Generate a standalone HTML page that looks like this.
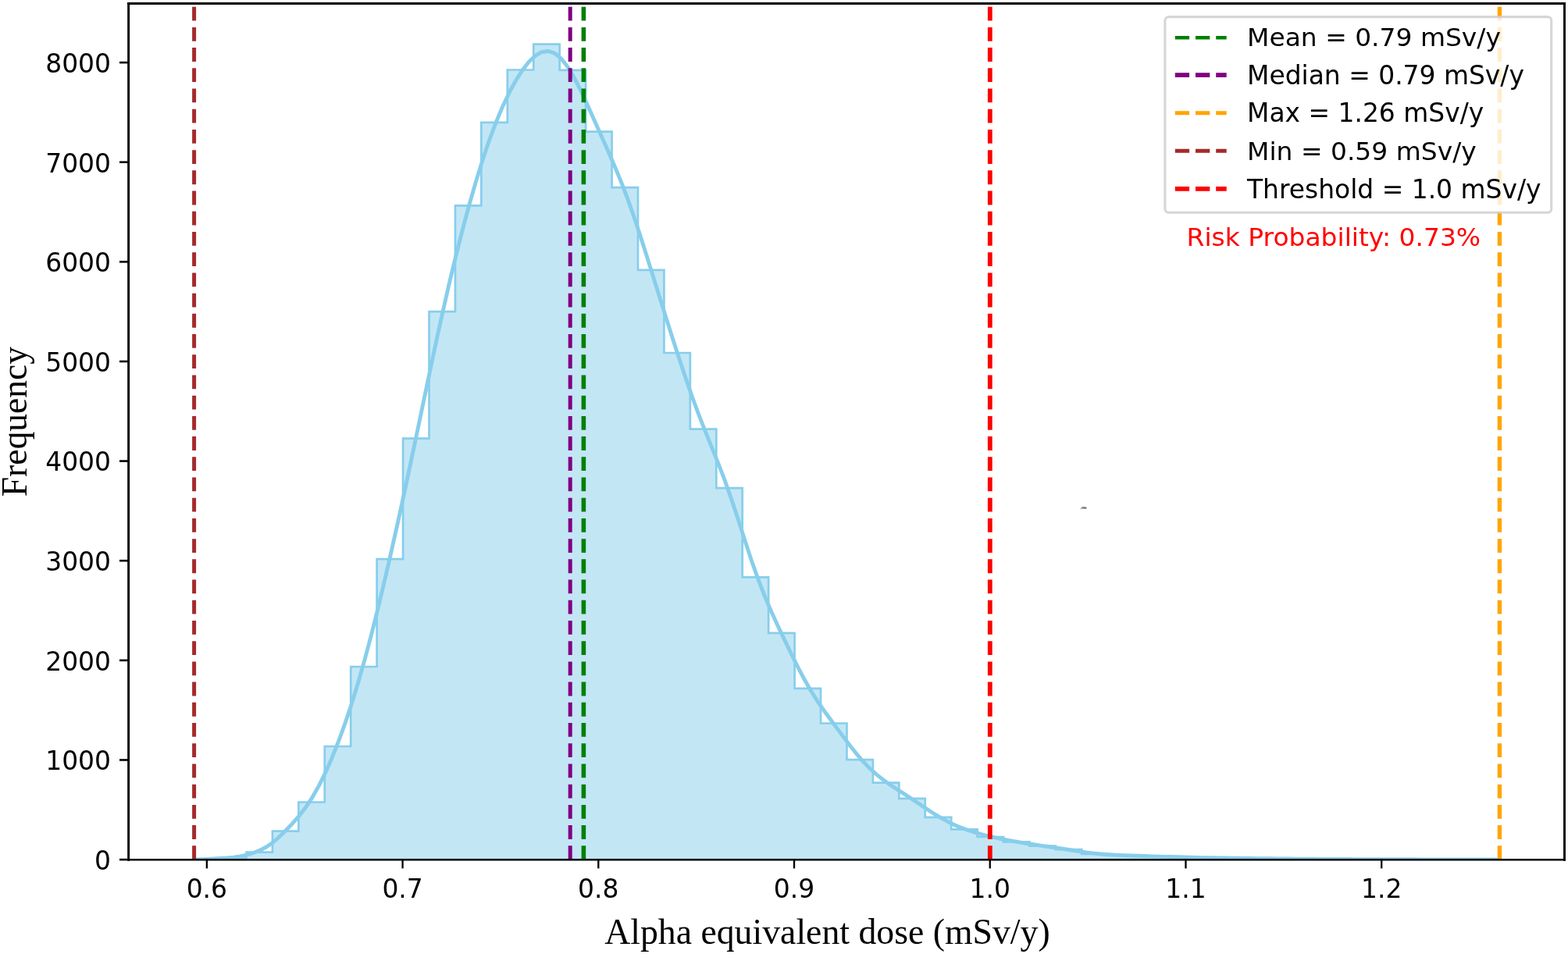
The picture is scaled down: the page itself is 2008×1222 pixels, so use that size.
<!DOCTYPE html>
<html lang="en">
<head>
<meta charset="utf-8">
<title>Alpha equivalent dose distribution</title>
<style>
html,body{margin:0;padding:0;background:#fff;}
body{width:2008px;height:1222px;overflow:hidden;}
svg{display:block;}
.t{font-family:"DejaVu Sans","Liberation Sans",sans-serif;font-size:32.93px;fill:#000;}
.s{font-family:"Liberation Serif","DejaVu Serif",serif;font-size:45.9px;fill:#000;}
</style>
</head>
<body>
<svg width="2008" height="1222" viewBox="0 0 2008 1222">
<rect x="0" y="0" width="2008" height="1222" fill="#ffffff"/>
<defs><clipPath id="ax"><rect x="164.5" y="4.5" width="1839.0" height="1096.5"/></clipPath></defs>
<g clip-path="url(#ax)">
<path d="M248.6 1101 L248.6 1100.6 L282.03 1100.6 L282.03 1098.6 L315.47 1098.6 L315.47 1091.6 L348.9 1091.6 L348.9 1064.6 L382.34 1064.6 L382.34 1027.5 L415.77 1027.5 L415.77 956 L449.2 956 L449.2 854 L482.64 854 L482.64 716.1 L516.07 716.1 L516.07 561.6 L549.51 561.6 L549.51 399.1 L582.94 399.1 L582.94 263.3 L616.37 263.3 L616.37 156.8 L649.81 156.8 L649.81 89.5 L683.24 89.5 L683.24 56.6 L716.68 56.6 L716.68 89.8 L750.11 89.8 L750.11 168.7 L783.54 168.7 L783.54 240.2 L816.98 240.2 L816.98 345.8 L850.41 345.8 L850.41 452 L883.85 452 L883.85 549.7 L917.28 549.7 L917.28 625.2 L950.71 625.2 L950.71 739.3 L984.15 739.3 L984.15 810.8 L1017.58 810.8 L1017.58 881.9 L1051.02 881.9 L1051.02 926.5 L1084.45 926.5 L1084.45 973.2 L1117.88 973.2 L1117.88 1002.7 L1151.32 1002.7 L1151.32 1022.9 L1184.75 1022.9 L1184.75 1046.9 L1218.19 1046.9 L1218.19 1062.4 L1251.62 1062.4 L1251.62 1072 L1285.05 1072 L1285.05 1078.3 L1318.49 1078.3 L1318.49 1083.6 L1351.92 1083.6 L1351.92 1088.2 L1385.36 1088.2 L1385.36 1093.8 L1418.79 1093.8 L1418.79 1095.5 L1452.22 1095.5 L1452.22 1096.7 L1485.66 1096.7 L1485.66 1097.6 L1519.09 1097.6 L1519.09 1098.5 L1552.53 1098.5 L1552.53 1099.1 L1585.96 1099.1 L1585.96 1099.5 L1619.39 1099.5 L1619.39 1099.9 L1652.83 1099.9 L1652.83 1100.2 L1686.26 1100.2 L1686.26 1100.4 L1719.7 1100.4 L1719.7 1100.6 L1753.13 1100.6 L1753.13 1100.7 L1786.56 1100.7 L1786.56 1100.8 L1820 1100.8 L1820 1100.9 L1853.43 1100.9 L1853.43 1100.9 L1886.87 1100.9 L1886.87 1100.9 L1920.3 1100.9 L1920.3 1101 Z" fill="#87ceeb" fill-opacity="0.5" stroke="#87ceeb" stroke-width="2.7" stroke-linejoin="miter"/>
<path d="M248.6 1100.97 L257 1100.73 L265.4 1100.41 L273.8 1100.01 L282.2 1099.51 L290.6 1098.9 L299 1098.07 L307.4 1096.86 L315.8 1095.06 L324.2 1092.5 L332.61 1089.22 L341.01 1085.06 L349.41 1079.28 L357.81 1071.76 L366.21 1063.43 L374.61 1054.7 L383.01 1045.16 L391.41 1034.25 L399.81 1021.55 L408.21 1006.81 L416.61 989.91 L425.01 970.91 L433.41 949.88 L441.81 926.86 L450.21 901.8 L458.61 874.6 L467.01 845.2 L475.41 813.67 L483.81 780.2 L492.21 745.08 L500.62 708.64 L509.02 671.1 L517.42 632.64 L525.82 593.37 L534.22 553.47 L542.62 513.25 L551.02 473.19 L559.42 433.84 L567.82 395.7 L576.22 359.17 L584.62 324.43 L593.02 291.54 L601.42 260.51 L609.82 231.41 L618.22 204.38 L626.62 179.56 L635.02 157.1 L643.42 137.03 L651.82 119.28 L660.22 103.75 L668.63 90.44 L677.03 79.53 L685.43 71.41 L693.83 66.57 L702.23 65.48 L710.63 68.42 L719.03 75.44 L727.43 86.27 L735.83 100.38 L744.23 116.97 L752.63 135.1 L761.03 153.89 L769.43 172.74 L777.83 191.56 L786.23 210.74 L794.63 230.95 L803.03 252.75 L811.43 276.38 L819.83 301.63 L828.23 327.99 L836.64 354.86 L845.04 381.78 L853.44 408.51 L861.84 434.9 L870.24 460.82 L878.64 485.98 L887.04 510.05 L895.44 532.75 L903.84 554.16 L912.24 574.81 L920.64 595.67 L929.04 617.73 L937.44 641.58 L945.84 667.04 L954.24 693.18 L962.64 718.68 L971.04 742.44 L979.44 764 L987.84 783.59 L996.24 801.91 L1004.65 819.62 L1013.05 837 L1021.45 853.88 L1029.85 869.84 L1038.25 884.5 L1046.65 897.79 L1055.05 909.97 L1063.45 921.53 L1071.85 932.86 L1080.25 944.13 L1088.65 955.21 L1097.05 965.79 L1105.45 975.54 L1113.85 984.25 L1122.25 991.9 L1130.65 998.61 L1139.05 1004.62 L1147.45 1010.2 L1155.85 1015.62 L1164.25 1021.08 L1172.66 1026.67 L1181.06 1032.37 L1189.46 1038.02 L1197.86 1043.45 L1206.26 1048.46 L1214.66 1052.95 L1223.06 1056.91 L1231.46 1060.39 L1239.86 1063.45 L1248.26 1066.17 L1256.66 1068.6 L1265.06 1070.77 L1273.46 1072.73 L1281.86 1074.5 L1290.26 1076.13 L1298.66 1077.65 L1307.06 1079.09 L1315.46 1080.47 L1323.86 1081.79 L1332.26 1083.05 L1340.67 1084.27 L1349.07 1085.47 L1357.47 1086.7 L1365.87 1087.97 L1374.27 1089.28 L1382.67 1090.59 L1391.07 1091.83 L1399.47 1092.92 L1407.87 1093.81 L1416.27 1094.49 L1424.67 1095 L1433.07 1095.38 L1441.47 1095.7 L1449.87 1096 L1458.27 1096.29 L1466.67 1096.57 L1475.07 1096.84 L1483.47 1097.09 L1491.87 1097.33 L1500.27 1097.55 L1508.68 1097.78 L1517.08 1098 L1525.48 1098.21 L1533.88 1098.41 L1542.28 1098.6 L1550.68 1098.77 L1559.08 1098.92 L1567.48 1099.05 L1575.88 1099.17 L1584.28 1099.28 L1592.68 1099.38 L1601.08 1099.48 L1609.48 1099.58 L1617.88 1099.68 L1626.28 1099.78 L1634.68 1099.87 L1643.08 1099.96 L1651.48 1100.04 L1659.88 1100.11 L1668.28 1100.18 L1676.69 1100.24 L1685.09 1100.29 L1693.49 1100.34 L1701.89 1100.4 L1710.29 1100.45 L1718.69 1100.49 L1727.09 1100.54 L1735.49 1100.58 L1743.89 1100.62 L1752.29 1100.65 L1760.69 1100.67 L1769.09 1100.7 L1777.49 1100.72 L1785.89 1100.75 L1794.29 1100.77 L1802.69 1100.8 L1811.09 1100.82 L1819.49 1100.85 L1827.89 1100.87 L1836.29 1100.89 L1844.7 1100.9 L1853.1 1100.9 L1861.5 1100.9 L1869.9 1100.89 L1878.3 1100.88 L1886.7 1100.88 L1895.1 1100.91 L1903.5 1100.97 L1911.9 1101.04 L1920.3 1101.12" fill="none" stroke="#87ceeb" stroke-width="4.9" stroke-linejoin="round" stroke-linecap="butt"/>

<line x1="747.4" y1="1101.1" x2="747.4" y2="4.5" stroke="#008000" stroke-width="5.6" stroke-dasharray="17.8 8.41"/>
<line x1="730.2" y1="1101.1" x2="730.2" y2="4.5" stroke="#800080" stroke-width="5.0" stroke-dasharray="17.8 8.41"/>
<line x1="1920.4" y1="1101.1" x2="1920.4" y2="4.5" stroke="#ffa500" stroke-width="5.4" stroke-dasharray="17.8 8.41"/>
<line x1="248.6" y1="1101.1" x2="248.6" y2="4.5" stroke="#a52a2a" stroke-width="5.0" stroke-dasharray="17.8 8.41"/>
<line x1="1267.8" y1="1101.1" x2="1267.8" y2="4.5" stroke="#ff0000" stroke-width="5.8" stroke-dasharray="17.8 8.41"/>
</g>
<g stroke="#000" stroke-linecap="square">
<line x1="164.6" y1="4.5" x2="164.6" y2="1101.3" stroke-width="2.9"/>
<line x1="2003.5" y1="4.5" x2="2003.5" y2="1101.3" stroke-width="2.9"/>
<line x1="164.5" y1="4.5" x2="2003.5" y2="4.5" stroke-width="2.9"/>
<line x1="164.5" y1="1101.3" x2="2003.5" y2="1101.3" stroke-width="2.6"/>
</g>
<g stroke="#000" stroke-width="2.3">
<line x1="264.84" y1="1101.3" x2="264.84" y2="1112.4"/>
<line x1="515.57" y1="1101.3" x2="515.57" y2="1112.4"/>
<line x1="766.3" y1="1101.3" x2="766.3" y2="1112.4"/>
<line x1="1017.03" y1="1101.3" x2="1017.03" y2="1112.4"/>
<line x1="1267.76" y1="1101.3" x2="1267.76" y2="1112.4"/>
<line x1="1518.49" y1="1101.3" x2="1518.49" y2="1112.4"/>
<line x1="1769.22" y1="1101.3" x2="1769.22" y2="1112.4"/>
</g>
<g stroke="#000" stroke-width="2.6">
<line x1="164.5" y1="1101.1" x2="153" y2="1101.1"/>
<line x1="164.5" y1="973.47" x2="153" y2="973.47"/>
<line x1="164.5" y1="845.85" x2="153" y2="845.85"/>
<line x1="164.5" y1="718.22" x2="153" y2="718.22"/>
<line x1="164.5" y1="590.6" x2="153" y2="590.6"/>
<line x1="164.5" y1="462.97" x2="153" y2="462.97"/>
<line x1="164.5" y1="335.35" x2="153" y2="335.35"/>
<line x1="164.5" y1="207.72" x2="153" y2="207.72"/>
<line x1="164.5" y1="80.1" x2="153" y2="80.1"/>
</g>
<g class="t" text-anchor="middle">
<text x="264.84" y="1149.6">0.6</text>
<text x="515.57" y="1149.6">0.7</text>
<text x="766.3" y="1149.6">0.8</text>
<text x="1017.03" y="1149.6">0.9</text>
<text x="1267.76" y="1149.6">1.0</text>
<text x="1518.49" y="1149.6">1.1</text>
<text x="1769.22" y="1149.6">1.2</text>
</g>
<g class="t" text-anchor="end">
<text x="142" y="1113.9">0</text>
<text x="142" y="986.27">1000</text>
<text x="142" y="858.65">2000</text>
<text x="142" y="731.02">3000</text>
<text x="142" y="603.4">4000</text>
<text x="142" y="475.77">5000</text>
<text x="142" y="348.15">6000</text>
<text x="142" y="220.52">7000</text>
<text x="142" y="92.9">8000</text>
</g>
<text class="s" x="774.2" y="1208.8" style="font-size:45.75px">Alpha equivalent dose (mSv/y)</text>
<text class="s" transform="translate(34 636.3) rotate(-90)" style="font-size:45.6px">Frequency</text>
<text class="t" transform="translate(1519.6 315.2) scale(1 0.975)" style="fill:#ff0000">Risk Probability: 0.73%</text>
<path d="M1386 650.4 L1390.4 650.7" fill="none" stroke="#555555" stroke-width="2.3" stroke-linecap="round" stroke-opacity="0.85"/>
<path d="M1384.2 651.7 L1385.9 650.5" fill="none" stroke="#aaaaaa" stroke-width="1.4" stroke-linecap="round"/>
<rect x="1491.9" y="21.6" width="494.8" height="250.7" rx="4.8" ry="4.8" fill="#ffffff" fill-opacity="0.8" stroke="#cccccc" stroke-opacity="0.8" stroke-width="3.1"/>
<line x1="1504.8" y1="48.2" x2="1570.7" y2="48.2" stroke="#008000" stroke-width="4.6" stroke-dasharray="18.3 7.9"/>
<text class="t" transform="translate(1597 59.2) scale(1 0.97)">Mean = 0.79 mSv/y</text>
<line x1="1504.8" y1="96.2" x2="1570.7" y2="96.2" stroke="#800080" stroke-width="5.8" stroke-dasharray="18.3 7.9"/>
<text class="t" transform="translate(1597 108) scale(1 1.03)">Median = 0.79 mSv/y</text>
<line x1="1504.8" y1="144.7" x2="1570.7" y2="144.7" stroke="#ffa500" stroke-width="4.9" stroke-dasharray="18.3 7.9"/>
<text class="t" transform="translate(1597 156.1) scale(1 1.015)">Max = 1.26 mSv/y</text>
<line x1="1504.8" y1="193.2" x2="1570.7" y2="193.2" stroke="#a52a2a" stroke-width="5.1" stroke-dasharray="18.3 7.9"/>
<text class="t" transform="translate(1597 204.6) scale(1 0.98)">Min = 0.59 mSv/y</text>
<line x1="1504.8" y1="241.9" x2="1570.7" y2="241.9" stroke="#ff0000" stroke-width="5.8" stroke-dasharray="18.3 7.9"/>
<text class="t" transform="translate(1597 253.6) scale(1 1.04)">Threshold = 1.0 mSv/y</text>
</svg>
</body>
</html>
